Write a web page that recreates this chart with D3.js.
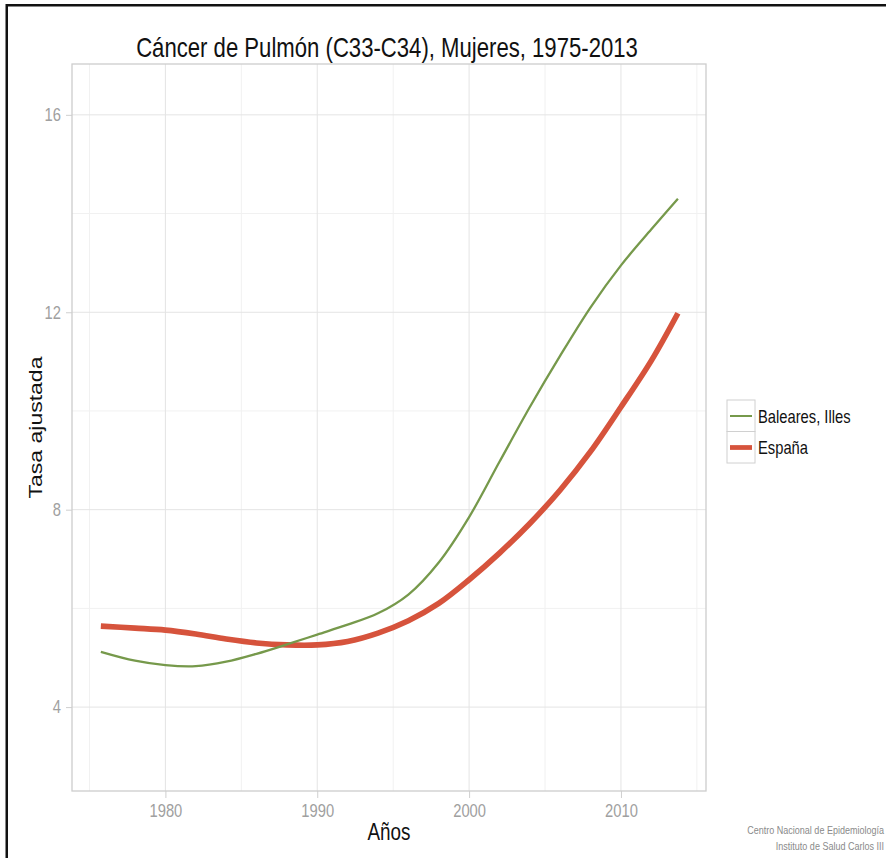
<!DOCTYPE html>
<html><head><meta charset="utf-8">
<script src="https://cdn.jsdelivr.net/npm/d3@7"></script>
<style>
html,body{margin:0;padding:0;background:#fff;}
svg{display:block;}
text{font-family:"Liberation Sans",Arial,Helvetica,sans-serif;}
</style></head>
<body>
<script>
const years = [1975.75, 1978, 1980, 1982, 1984, 1986, 1988, 1990, 1992, 1994, 1996, 1998, 2000, 2002, 2004, 2006, 2008, 2010, 2012, 2013.75];
const baleares = [5.12, 4.94, 4.85, 4.83, 4.92, 5.08, 5.27, 5.47, 5.67, 5.90, 6.28, 6.93, 7.85, 8.97, 10.08, 11.12, 12.10, 12.95, 13.68, 14.30];
const espana = [5.64, 5.60, 5.56, 5.48, 5.38, 5.30, 5.26, 5.26, 5.33, 5.50, 5.75, 6.10, 6.58, 7.12, 7.72, 8.40, 9.18, 10.08, 11.02, 11.98];
const seriesNames = ["Baleares, Illes", "España"];
const seriesColors = ["#76994b", "#d6533c"];
const xTicks = [1980, 1990, 2000, 2010];
const xMinor = [1975, 1985, 1995, 2005, 2015];
const yTicks = [4, 8, 12, 16];
const yMinor = [2, 6, 10, 14];
const title = "Cáncer de Pulmón (C33-C34), Mujeres, 1975-2013";
const xLabel = "Años";
const yLabel = "Tasa ajustada";
const caption = ["Centro Nacional de Epidemiología", "Instituto de Salud Carlos III"];

const W = 886, H = 858;
const P = {left: 72, right: 706, top: 64, bottom: 791};
const SX = 0.82; // horizontal squeeze of the original picture

const svg = d3.select("body").append("svg").attr("width", W).attr("height", H);

// frame lines (top and left)
svg.append("rect").attr("x", 6).attr("y", 4).attr("width", W - 6).attr("height", 2.5).attr("fill", "#111");
svg.append("rect").attr("x", 5.5).attr("y", 4).attr("width", 2.5).attr("height", H - 4).attr("fill", "#111");

const x = d3.scaleLinear().domain([1973.85, 2015.6]).range([P.left, P.right]);
const y = d3.scaleLinear().domain([2.3, 17.03]).range([P.bottom, P.top]);

function sText(parent, tx, ty, str, size, anchor, fill) {
  return parent.append("text")
    .attr("transform", `translate(${tx},${ty}) scale(${SX},1)`)
    .attr("text-anchor", anchor).style("font-size", size + "px").attr("fill", fill).text(str);
}

const g = svg.append("g");
// minor grid
g.selectAll(".vminor").data(xMinor.filter(d => x(d) > P.left && x(d) < P.right)).enter().append("line")
  .attr("x1", d => x(d)).attr("x2", d => x(d)).attr("y1", P.top).attr("y2", P.bottom)
  .attr("stroke", "#f1f1f1").attr("stroke-width", 1);
g.selectAll(".hminor").data(yMinor.filter(d => y(d) > P.top && y(d) < P.bottom)).enter().append("line")
  .attr("y1", d => y(d)).attr("y2", d => y(d)).attr("x1", P.left).attr("x2", P.right)
  .attr("stroke", "#f1f1f1").attr("stroke-width", 1);
// major grid
g.selectAll(".vmajor").data(xTicks).enter().append("line")
  .attr("x1", d => x(d)).attr("x2", d => x(d)).attr("y1", P.top).attr("y2", P.bottom)
  .attr("stroke", "#e4e4e4").attr("stroke-width", 1);
g.selectAll(".hmajor").data(yTicks).enter().append("line")
  .attr("y1", d => y(d)).attr("y2", d => y(d)).attr("x1", P.left).attr("x2", P.right)
  .attr("stroke", "#e4e4e4").attr("stroke-width", 1);

// axes
const xAxis = d3.axisBottom(x).tickValues(xTicks).tickFormat(d3.format("d")).tickSize(7).tickPadding(6);
const yAxis = d3.axisLeft(y).tickValues(yTicks).tickSize(6).tickPadding(5);
const gx = svg.append("g").attr("transform", `translate(0,${P.bottom})`).call(xAxis);
const gy = svg.append("g").attr("transform", `translate(${P.left},0)`).call(yAxis);
[gx, gy].forEach(a => {
  a.select(".domain").remove();
  a.selectAll(".tick line").attr("stroke", "#cfcfcf");
  a.selectAll(".tick text").attr("fill", "#a0a0a0").style("font-size", "18px")
    .style("font-family", '"Liberation Sans",Arial,sans-serif');
});
gx.selectAll(".tick text").attr("transform", `scale(${SX},1)`);
gy.selectAll(".tick text").attr("x", -11 / SX).attr("transform", `scale(${SX},1)`);

// panel border
svg.append("rect").attr("x", P.left).attr("y", P.top).attr("width", P.right - P.left).attr("height", P.bottom - P.top)
  .attr("fill", "none").attr("stroke", "#cdcdcd").attr("stroke-width", 1.3);

// lines
const line = d3.line().x(d => x(d[0])).y(d => y(d[1])).curve(d3.curveCatmullRom.alpha(0.5));
const widths = [2.3, 5.6];
svg.append("path").datum(years.map((yr, i) => [yr, espana[i]]))
  .attr("d", line).attr("fill", "none").attr("stroke", seriesColors[1]).attr("stroke-width", widths[1]);
svg.append("path").datum(years.map((yr, i) => [yr, baleares[i]]))
  .attr("d", line).attr("fill", "none").attr("stroke", seriesColors[0]).attr("stroke-width", widths[0]);

// title
sText(svg, (P.left + P.right) / 2 - 2, 57, title, 27, "middle", "#111");
// axis titles
sText(svg, (P.left + P.right) / 2, 840, xLabel, 23, "middle", "#111");
svg.append("text").attr("transform", `translate(42,${(P.top + P.bottom) / 2}) scale(${SX},1) rotate(-90)`)
  .attr("text-anchor", "middle").style("font-size", "23px").attr("fill", "#111").text(yLabel);

// legend
const lg = svg.append("g").attr("transform", "translate(727,400)");
seriesNames.forEach((name, i) => {
  const row = lg.append("g").attr("transform", `translate(0,${i * 31.5})`);
  row.append("rect").attr("x", 0).attr("y", 0).attr("width", 28).attr("height", 31.5)
    .attr("fill", "#fff").attr("stroke", "#d0d0d0").attr("stroke-width", 1);
  row.append("line").attr("x1", 3).attr("x2", 25).attr("y1", 16).attr("y2", 16)
    .attr("stroke", seriesColors[i]).attr("stroke-width", widths[i] * 0.85);
  sText(row, 31, 22.5, name, 18, "start", "#111");
});

// caption
caption.forEach((c, i) => {
  sText(svg, 884, 834 + i * 16, c, 11, "end", "#8a8a8a");
});
</script>
</body></html>
